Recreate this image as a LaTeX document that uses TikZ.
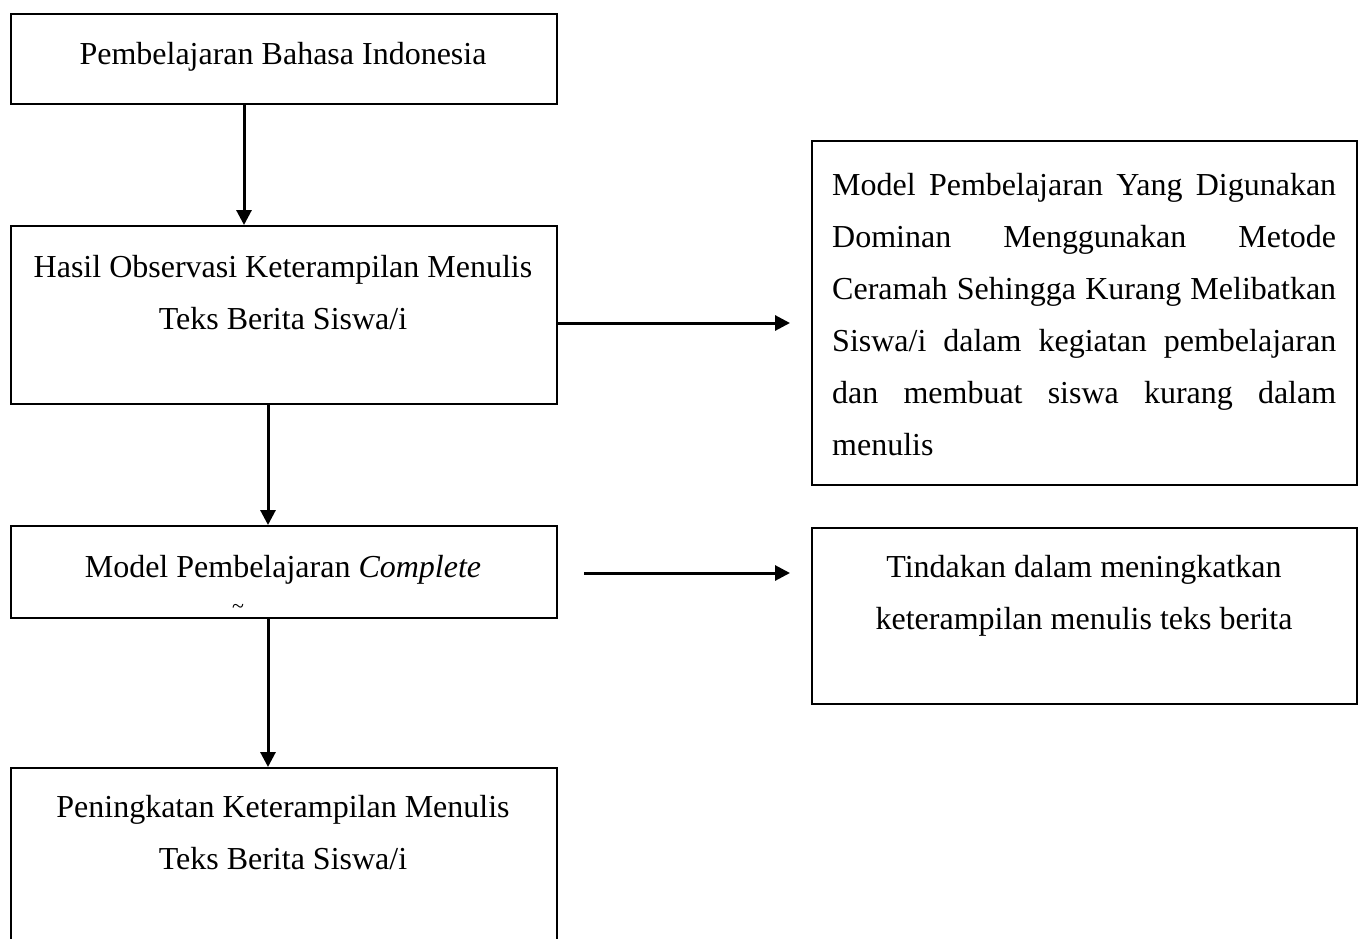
\documentclass[tikz,border=0pt]{standalone}
\usepackage{fontspec}
\setmainfont{Liberation Serif}
\usetikzlibrary{arrows.meta, positioning}
% one justified line of the wide box
\newcommand{\jl}[1]{\leavevmode\hbox to 504pt{#1}}

\begin{document}
\begin{tikzpicture}[x=1pt, y=-1pt,
    every node/.style={font=\fontsize{32}{52}\selectfont},
    box/.style={draw, line width=2pt, rectangle, anchor=north west, inner sep=0pt},
    txt/.style={anchor=north, align=center, inner sep=0pt},
    arr/.style={-{Triangle[length=15pt, width=15pt]}, line width=3pt}
]
\clip (0,0) rectangle (1358,938);
% left column
\node[box, minimum width=546pt, minimum height=90pt] (pembelajaran) at (10,13) {};
\node[txt] (pembelajaranT) at (283,42) {Pembelajaran Bahasa Indonesia};
\node[box, minimum width=546pt, minimum height=178pt] (hasil) at (10,225) {};
\node[txt] (hasilT) at (283,255) {Hasil Observasi Keterampilan Menulis\\Teks Berita Siswa/i};
\node[box, minimum width=546pt, minimum height=92pt] (model) at (10,525) {};
\node[txt] (modelT) at (283,555) {Model Pembelajaran \textit{Complete}};
\node[inner sep=0pt, font=\fontsize{22}{22}\selectfont] (tilde) at (238,609) {\textasciitilde};
\node[box, minimum width=546pt, minimum height=200pt] (peningkatan) at (10,767) {};
\node[txt] (peningkatanT) at (283,795) {Peningkatan Keterampilan Menulis\\Teks Berita Siswa/i};
% right column
\node[box, minimum width=545pt, minimum height=344pt] (dominan) at (811,140) {};
\node[txt, anchor=north west, align=left, text width=504pt] (dominanT) at (832,173)
  {\jl{Model\hfill Pembelajaran\hfill Yang\hfill Digunakan}\\
   \jl{Dominan\hfill Menggunakan\hfill Metode}\\
   \jl{Ceramah\hfill Sehingga\hfill Kurang\hfill Melibatkan}\\
   \jl{Siswa/i\hfill dalam\hfill kegiatan\hfill pembelajaran}\\
   \jl{dan\hfill membuat\hfill siswa\hfill kurang\hfill dalam}\\menulis};
\node[box, minimum width=545pt, minimum height=176pt] (tindakan) at (811,527) {};
\node[txt] (tindakanT) at (1084,555) {Tindakan dalam meningkatkan\\keterampilan menulis teks berita};
% arrows
\coordinate (kolA) at (244,0);
\coordinate (kolB) at (268,0);
\coordinate (barisA) at (0,323);
\coordinate (barisB) at (0,573);
\draw[arr] (pembelajaran.south -| kolA) -- (hasil.north -| kolA);
\draw[arr] (hasil.south -| kolB) -- (model.north -| kolB);
\draw[arr] (model.south -| kolB) -- (peningkatan.north -| kolB);
\draw[arr, shorten >=21pt] (hasil.east |- barisA) -- (dominan.west |- barisA);
\draw[arr, shorten <=26pt, shorten >=21pt] (model.east |- barisB) -- (tindakan.west |- barisB);
\end{tikzpicture}
\end{document}
